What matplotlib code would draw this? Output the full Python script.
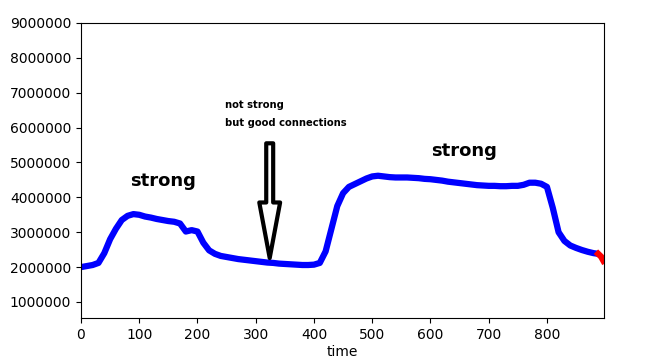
import matplotlib
matplotlib.use("Agg")
import matplotlib.pyplot as plt

# time series
time = [0, 10, 20, 30, 40, 50, 60, 70, 80, 90, 100, 110, 120, 130, 140, 150, 160, 170, 180, 190,
        200, 210, 220, 230, 240, 250, 260, 270, 280, 290, 300, 310, 320, 330, 340, 350, 360, 370, 380, 390,
        400, 410, 420, 430, 440, 450, 460, 470, 480, 490, 500, 510, 520, 530, 540, 550, 560, 570, 580, 590,
        600, 610, 620, 630, 640, 650, 660, 670, 680, 690, 700, 710, 720, 730, 740, 750, 760, 770, 780, 790,
        800, 810, 820, 830, 840, 850, 860, 870, 880, 888]
value = [2.00, 2.03, 2.06, 2.12, 2.40, 2.80, 3.10, 3.35, 3.47, 3.52, 3.50, 3.45, 3.42, 3.38, 3.35, 3.32, 3.30, 3.25, 3.02, 3.06,
         3.02, 2.70, 2.48, 2.38, 2.32, 2.29, 2.26, 2.23, 2.21, 2.19, 2.17, 2.15, 2.13, 2.12, 2.10, 2.09, 2.08, 2.07, 2.06, 2.06,
         2.07, 2.12, 2.45, 3.10, 3.75, 4.12, 4.30, 4.38, 4.46, 4.54, 4.60, 4.62, 4.60, 4.58, 4.57, 4.57, 4.57, 4.56, 4.55, 4.53,
         4.52, 4.50, 4.48, 4.45, 4.43, 4.41, 4.39, 4.37, 4.35, 4.34, 4.33, 4.33, 4.32, 4.32, 4.33, 4.33, 4.36, 4.42, 4.42, 4.39,
         4.30, 3.70, 3.00, 2.75, 2.62, 2.55, 2.49, 2.44, 2.40, 2.38]
value = [v * 1e6 for v in value]

# last few points drawn in red
end_time = [888, 893, 897]
end_value = [2.38e6, 2.30e6, 2.18e6]

yticks = [1000000, 2000000, 3000000, 4000000, 5000000, 6000000, 7000000, 8000000, 9000000]
xticks = [0, 100, 200, 300, 400, 500, 600, 700, 800]

fig = plt.figure(figsize=(6.49, 3.57), dpi=100)
ax = fig.add_axes([0.1248, 0.1092, 0.8059, 0.8264])

ax.plot(time, value, color="blue", linewidth=4.5, solid_capstyle="butt")
ax.plot(end_time, end_value, color="red", linewidth=4.5)

ax.set_xlim(0, 898)
ax.set_ylim(540000, 9000000)
ax.set_xticks(xticks)
ax.set_yticks(yticks)
ax.set_yticklabels([str(y) for y in yticks])
ax.set_xlabel("time", labelpad=2)

ax.text(84, 4.48e6, "strong", fontsize=13, fontweight="bold", va="center")
ax.text(601, 5.33e6, "strong", fontsize=13, fontweight="bold", va="center")
ax.text(247, 6.64e6, "not strong", fontsize=7.2, fontweight="bold", va="center")
ax.text(247, 6.13e6, "but good connections", fontsize=7.2, fontweight="bold", va="center")

ax.annotate("", xy=(324, 2.26e6), xytext=(324, 5.55e6),
            arrowprops=dict(facecolor="white", edgecolor="black", linewidth=3,
                            width=5, headwidth=15, headlength=40, shrink=0))

fig.savefig("out.png", dpi=100)
